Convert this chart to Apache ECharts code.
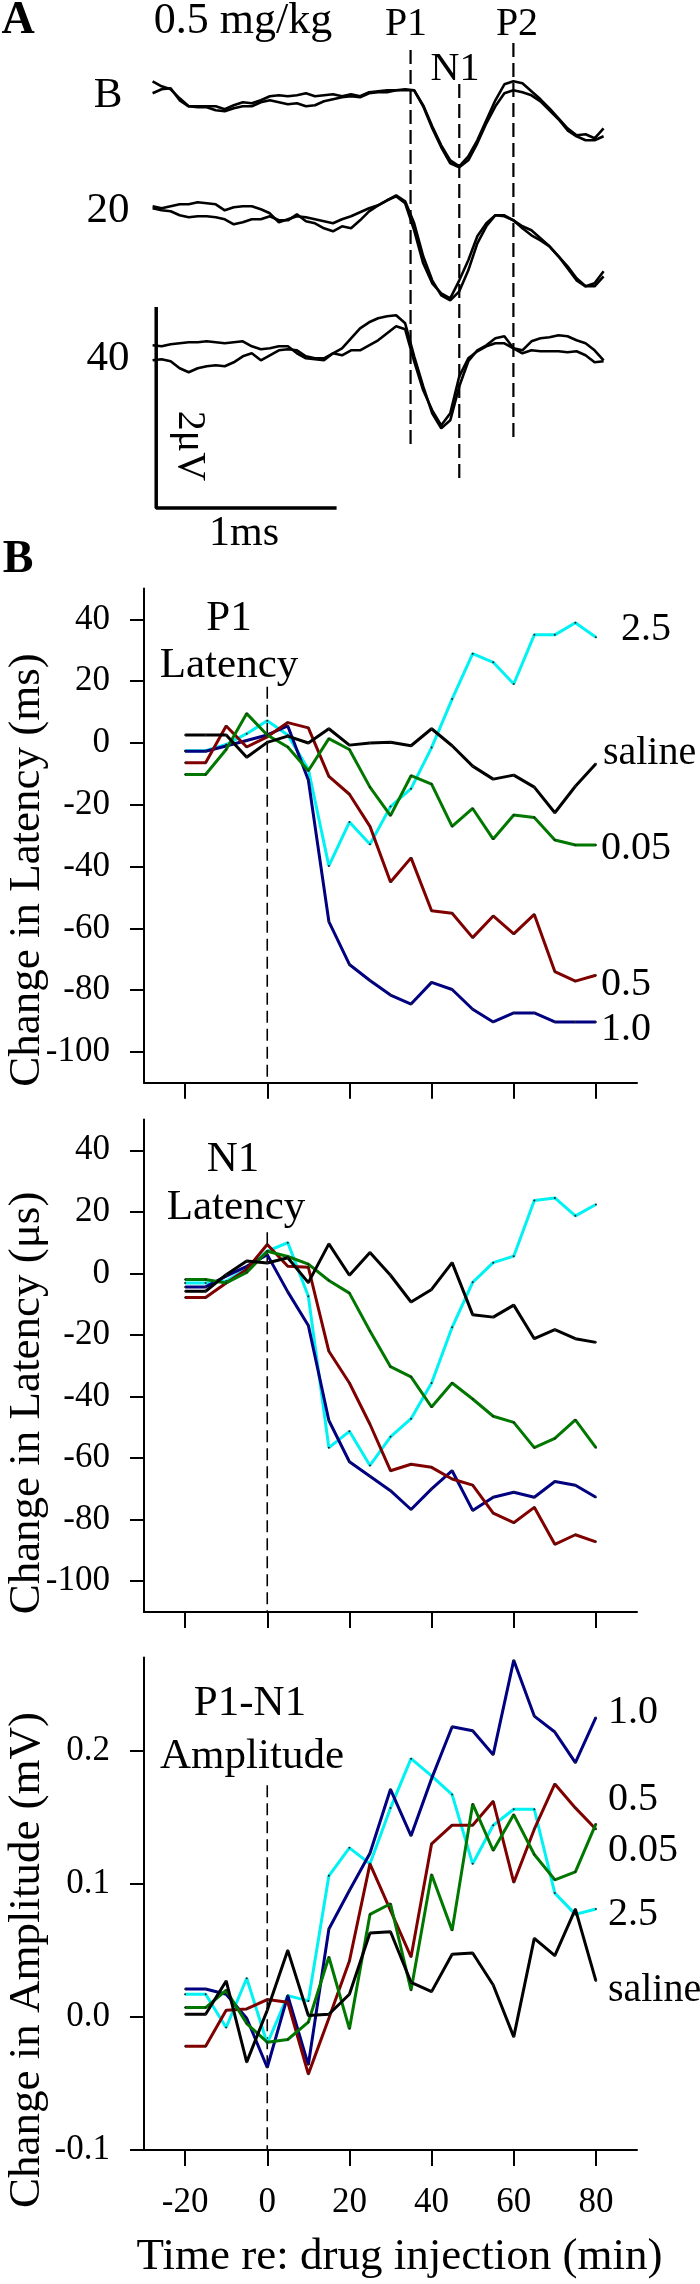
<!DOCTYPE html>
<html>
<head>
<meta charset="utf-8">
<script src="https://cdn.jsdelivr.net/npm/echarts@6/dist/echarts.min.js"></script>
<style>
html,body{margin:0;padding:0;background:#fff;}
#chart{width:700px;height:2284px;}
</style>
</head>
<body>
<div id="chart"></div>
<script>
// ---------------- Panel A: evoked responses (0.5 mg/kg) ----------------
// sample times (ms) and amplitude (μV, relative to pre-stimulus level)
const waveTime = [0,0.05,0.1,0.15,0.2,0.25,0.3,0.35,0.4,0.45,0.5,0.55,0.6,0.65,0.7,0.75,0.8,0.85,0.9,0.95,1.0,1.05,1.1,1.15,1.2,1.25,1.3,1.35,1.4,1.45,1.5,1.55,1.6,1.65,1.7,1.75,1.8,1.85,1.9,1.95,2.0,2.05,2.1,2.15,2.2,2.25,2.3,2.35,2.4,2.45,2.5];
const waveB_a = [0.12,0.07,0.04,-0.05,-0.13,-0.13,-0.13,-0.13,-0.16,-0.12,-0.09,-0.10,-0.07,-0.03,-0.02,-0.03,-0.02,0,-0.03,-0.02,-0.01,-0.03,-0.01,-0.03,0.01,0.02,0.03,0.03,0.04,0.03,-0.12,-0.33,-0.52,-0.67,-0.73,-0.63,-0.47,-0.27,-0.07,0.09,0.12,0.10,0.02,-0.06,-0.15,-0.25,-0.35,-0.42,-0.41,-0.45,-0.35];
const waveB_b = [0,0.04,0.05,-0.07,-0.13,-0.14,-0.14,-0.17,-0.18,-0.15,-0.13,-0.13,-0.09,-0.07,-0.09,-0.11,-0.10,-0.13,-0.12,-0.08,-0.06,-0.04,-0.03,-0.04,0,0.01,0.01,0.03,0.03,0.03,-0.13,-0.35,-0.54,-0.70,-0.74,-0.67,-0.50,-0.30,-0.13,0,0.03,0.01,-0.02,-0.08,-0.17,-0.26,-0.37,-0.43,-0.47,-0.47,-0.43];
const wave20_a = [0.07,0.05,0.07,0.09,0.09,0.11,0.10,0.09,0.03,0.06,0.07,0.07,0.04,0,-0.09,-0.06,-0.03,-0.04,-0.06,-0.08,-0.10,-0.06,-0.03,0.01,0.05,0.08,0.13,0.18,0.12,-0.10,-0.43,-0.67,-0.82,-0.87,-0.78,-0.57,-0.30,-0.13,-0.02,-0.02,-0.07,-0.13,-0.17,-0.25,-0.33,-0.43,-0.53,-0.65,-0.73,-0.70,-0.58];
const wave20_b = [0.05,0.03,0.02,-0.02,-0.04,-0.03,-0.03,-0.04,-0.06,-0.11,-0.09,-0.06,-0.06,-0.03,-0.07,-0.07,-0.01,-0.08,-0.10,-0.15,-0.18,-0.13,-0.15,-0.07,0.02,0.08,0.13,0.17,0.10,-0.17,-0.50,-0.70,-0.80,-0.85,-0.67,-0.47,-0.23,-0.10,-0.02,-0.03,-0.07,-0.15,-0.22,-0.27,-0.33,-0.43,-0.55,-0.67,-0.73,-0.73,-0.63];
const wave40_a = [0.08,0.07,0.09,0.10,0.11,0.11,0.12,0.11,0.10,0.11,0.12,0.07,0.04,0.05,0.07,0.07,0,-0.05,-0.06,-0.07,0,0.05,0.15,0.25,0.31,0.35,0.37,0.38,0.30,-0.03,-0.33,-0.60,-0.75,-0.67,-0.33,-0.08,0.03,0.08,0.15,0.17,0.05,0.03,0.12,0.15,0.16,0.18,0.17,0.13,0.10,0.03,-0.07];
const wave40_b = [-0.07,-0.06,-0.08,-0.15,-0.19,-0.15,-0.13,-0.12,-0.13,-0.09,-0.03,0,-0.07,-0.02,0.03,0.04,0.03,-0.03,-0.05,-0.05,0,-0.02,0.03,0.03,0.08,0.13,0.20,0.27,0.24,-0.08,-0.37,-0.57,-0.72,-0.60,-0.23,-0.05,0.02,0.07,0.10,0.10,0.05,0,0.03,0.02,0.02,0.02,0.01,0.02,-0.02,-0.09,-0.08];
const waveRowNames = ['B','20','40'];
const waveRowLevel = [-0.933,-2.133,-3.533];      // stacking level of each row (μV)
const peakNames = ['P1','N1','P2'];
const peakTimes = [1.43,1.70,2.00];               // ms
const peakLineTop = [-0.50,-0.84,-0.43];          // μV
const peakLineBottom = [-4.47,-4.83,-4.40];       // μV
const scaleBarTime = [0.02,0.02,1.02];            // 1 ms
const scaleBarAmp = [-3.07,-5.08,-5.08];          // 2 μV

// ---------------- Panel B: time courses ----------------
const minutes = [-20,-15,-10,-5,0,5,10,15,20,25,30,35,40,45,50,55,60,65,70,75,80];
const xTicks = [-20,0,20,40,60,80];
const latTicks = [-100,-80,-60,-40,-20,0,20,40];
const ampTicks = [-0.1,0,0.1,0.2];

const doseNames = ['2.5','1.0','0.5','0.05','saline'];
const doseColors = ['#00f2f2','#000080','#800000','#007800','#000000'];

// P1 latency change (ms)
const p1_25     = [-2.5,-2.5,-0.5,3,7.2,2.6,-8.5,-39.8,-25.6,-32.8,-20.6,-14.8,-1.5,14.2,28.9,26.1,19.1,35,35,38.9,34.2];
const p1_10     = [-2.7,-2.7,-1,0.8,2.6,5.5,-12,-57.8,-71.7,-76.9,-81.6,-84.5,-77.5,-79.8,-86.2,-90.3,-87.4,-87.4,-90.3,-90.3,-90.3];
const p1_05     = [-6.4,-6.4,5.5,-1.3,2,6.6,4.9,-10.8,-16.6,-27,-45,-37.2,-54.3,-55.1,-63,-56,-61.8,-55.5,-74,-77.1,-75.2];
const p1_005    = [-10.2,-10.2,-2.1,9.5,2.6,-1.3,-9,1.4,-2.1,-14.3,-23.5,-10.6,-13.3,-27,-21.2,-31.1,-23.3,-24.1,-31.4,-33,-33];
const p1_saline = [2.6,2.6,2.6,-4.6,0.2,2.2,0,4.6,-0.7,0,0.2,-0.9,4.6,-0.9,-7.5,-11.7,-10.4,-14.3,-22.6,-14.0,-6.7];

// N1 latency change (μs)
const n1_25     = [-3.1,-3.1,-2.5,1.5,7.2,10,-7.4,-56.6,-51.3,-62.4,-53.1,-47.2,-35.6,-17.5,-2.9,3.5,5.6,23.7,24.5,18.7,22.4];
const n1_10     = [-4.4,-4.4,-0.9,2.3,6.1,-6,-16.9,-47.8,-61.2,-65.9,-70.6,-76.7,-70,-64.1,-77,-72.7,-71.1,-72.7,-67.6,-68.8,-72.7];
const n1_05     = [-7.8,-7.8,-3.1,1.3,9.4,2.3,2,-25.3,-35.6,-49,-64.1,-62,-63,-66.8,-68.8,-77.9,-81,-76,-88,-84.9,-87.2];
const n1_005    = [-2.0,-2.0,-3.1,0.3,7.2,5.5,3,-2.3,-6.4,-18.7,-30.3,-33.6,-43.4,-35.6,-40.8,-46.4,-48.4,-56.6,-53.6,-47.6,-56.6];
const n1_saline = [-5.8,-5.8,-0.4,4.0,3.4,5.1,-3,9.6,-0.6,6.8,-0.6,-9.3,-5.2,3.5,-13.4,-14.2,-10.3,-21.2,-18.3,-21.2,-22.4];

// P1-N1 amplitude change (mV)
const amp_25     = [0.017,0.017,-0.008,0.029,-0.02,0.016,0.012,0.106,0.127,0.115,0.157,0.194,0.181,0.167,0.115,0.144,0.156,0.156,0.093,0.077,0.081];
const amp_10     = [0.021,0.021,0.017,-0.001,-0.038,0.016,-0.036,0.066,0.095,0.123,0.171,0.136,0.179,0.218,0.215,0.197,0.268,0.226,0.214,0.191,0.225];
const amp_05     = [-0.022,-0.022,0.005,0.006,0.013,0.011,-0.043,-0.001,0.042,0.115,0.08,0.045,0.13,0.144,0.144,0.162,0.101,0.141,0.175,0.157,0.141];
const amp_005    = [0.007,0.007,0.02,-0.005,-0.019,-0.017,-0.004,0.045,-0.009,0.077,0.085,0.02,0.107,0.065,0.16,0.125,0.152,0.122,0.103,0.109,0.145];
const amp_saline = [0.002,0.002,0.027,-0.034,0.005,0.05,0.001,0.002,0.017,0.063,0.064,0.026,0.019,0.047,0.048,0.024,-0.015,0.059,0.046,0.081,0.027];

// injection marker extent (value units per panel)
const injTop = [18.2, 13.4, 0.174];
const injBottom = [-110, -110, -0.1];

const panelTitles = ['Change in Latency (ms)','Change in Latency (\u03bcs)','Change in Amplitude (mV)'];
const panelNotes = [['P1','Latency'],['N1','Latency'],['P1-N1','Amplitude']];

// ---------------- build option ----------------
const FONT = "'Liberation Serif','Times New Roman',Times,serif";
const chart = echarts.init(document.getElementById('chart'), null, {renderer:'canvas'});

const grids = [
  {left:152.6, top:0, width:451, height:560},
  {left:144, top:588.5, width:493, height:494.3},
  {left:144, top:1119.5, width:493, height:492.5},
  {left:144, top:1657.5, width:493, height:492.5}
].map(g => Object.assign({outerBoundsMode:'none', containLabel:false}, g));

const axisLineStyle = {color:'#000', width:2};
function bX(gi, withLabels){
  return {
    type:'value', gridIndex:gi, min:-30, max:90,
    axisLine:{show:true, onZero:false, lineStyle:axisLineStyle},
    axisTick:{show:true, length:16, customValues:xTicks, lineStyle:{color:'#000', width:2}},
    axisLabel:{show:withLabels, customValues:xTicks, margin:35, fontSize:35, lineHeight:35, color:'#000', fontFamily:FONT},
    splitLine:{show:false},
    name: withLabels ? 'Time re: drug injection (min)' : '',
    nameLocation:'middle', nameGap:85,
    nameTextStyle:{fontSize:45, lineHeight:45, color:'#000', fontFamily:FONT, padding:[0,0,0,18]}
  };
}
function bY(gi, min, max, ticks, fmt){
  return {
    type:'value', gridIndex:gi, min:min, max:max,
    axisLine:{show:true, onZero:false, lineStyle:axisLineStyle},
    axisTick:{show:true, length:14, customValues:ticks, lineStyle:{color:'#000', width:2}},
    axisLabel:{show:true, customValues:ticks, margin:34, fontSize:35, color:'#000', fontFamily:FONT, formatter:fmt},
    splitLine:{show:false}
  };
}

const xAxes = [
  {type:'value', gridIndex:0, min:0, max:2.5, show:false},
  bX(1,false), bX(2,false), bX(3,true)
];
const yAxes = [
  {type:'value', gridIndex:0, min:-5.6, max:0, show:false},
  bY(1,-110,50,latTicks, v=>String(v)),
  bY(2,-110,50,latTicks, v=>String(v)),
  bY(3,-0.1,0.27,ampTicks, v=>v.toFixed(1))
];

const series = [];
// Panel A traces
const waveRows = [[waveB_a, waveB_b],[wave20_a, wave20_b],[wave40_a, wave40_b]];
waveRows.forEach((pair, r) => {
  pair.forEach((arr, k) => {
    series.push({
      type:'line', name:'trace '+waveRowNames[r]+'-'+(k+1), xAxisIndex:0, yAxisIndex:0,
      data: waveTime.map((t,i) => [t, arr[i] + waveRowLevel[r]]),
      showSymbol:false, silent:true, smooth:false,
      lineStyle:{color:'#000', width:2.6}
    });
  });
});
peakNames.forEach((p, i) => {
  series.push({
    type:'line', name:'peak '+p, xAxisIndex:0, yAxisIndex:0,
    data:[[peakTimes[i], peakLineTop[i]],[peakTimes[i], peakLineBottom[i]]],
    showSymbol:false, silent:true,
    lineStyle:{color:'#000', width:2.2, type:[14,6]}
  });
});
series.push({
  type:'line', name:'scale bar', xAxisIndex:0, yAxisIndex:0,
  data: scaleBarTime.map((t,i)=>[t, scaleBarAmp[i]]),
  showSymbol:false, silent:true, lineStyle:{color:'#000', width:3.5}
});

// Panel B series
const panelData = [
  [p1_25, p1_10, p1_05, p1_005, p1_saline],
  [n1_25, n1_10, n1_05, n1_005, n1_saline],
  [amp_25, amp_10, amp_05, amp_005, amp_saline]
];
// end-label placement [distance, dy] per panel/dose (null = no label)
const endLabelPos = [
  [[25,-8],[5,8],[5,9],[5,4],[7,-10]],
  null,
  [[12,5],[12,-5],[12,-30],[12,27],[12,10]]
];
panelData.forEach((sets, p) => {
  const gi = p + 1;
  series.push({
    type:'line', name:'injection '+gi, xAxisIndex:gi, yAxisIndex:gi,
    data:[[0, injTop[p]],[0, injBottom[p]]], showSymbol:false, silent:true, z:1,
    lineStyle:{color:'#000', width:1.6, type:[12,6]}
  });
  sets.forEach((vals, d) => {
    const pos = endLabelPos[p] ? endLabelPos[p][d] : null;
    series.push({
      type:'line', name:doseNames[d]+' (panel '+gi+')', xAxisIndex:gi, yAxisIndex:gi,
      data: minutes.map((m,i)=>[m, vals[i]]),
      symbol:'circle', symbolSize:2, showSymbol:true,
      itemStyle:{color:'#222'},
      lineStyle:{color:doseColors[d], width:3},
      z: 2 + d,
      endLabel: pos ? {
        show:true, formatter:doseNames[d], distance:pos[0], offset:[0,pos[1]],
        color:'#000', fontSize:40, fontFamily:FONT
      } : {show:false},
      labelLayout:{hideOverlap:false}
    });
  });
});

function txt(text, x, y, size, opts){
  opts = opts || {};
  const el = {
    type:'text', x:x, y:y, silent:true,
    style:{text:text, fontSize:size, lineHeight:size, fontFamily:FONT, fill:'#000', align:'center', verticalAlign:'middle',
      fontWeight: opts.bold ? 'bold' : 'normal'}
  };
  if (opts.rotation) el.rotation = opts.rotation;
  return el;
}
const graphics = [
  txt('A', 18, 21, 46, {bold:true}),
  txt('B', 18, 560, 46, {bold:true}),
  txt('0.5 mg/kg', 243, 21, 44),
  txt(peakNames[0], 406, 24, 40),
  txt(peakNames[1], 455, 69, 40),
  txt(peakNames[2], 517, 24, 40),
  txt(waveRowNames[0], 108, 96, 43),
  txt(waveRowNames[1], 108, 211, 43),
  txt(waveRowNames[2], 108, 359, 43),
  txt('2\u03bcV', 189, 446, 40, {rotation:-Math.PI/2}),
  txt('1ms', 244, 534, 42),
  // panel annotations
  txt(panelNotes[0][0], 229, 619, 43),
  txt(panelNotes[0][1], 229, 666, 43),
  txt(panelNotes[1][0], 233, 1160, 43),
  txt(panelNotes[1][1], 236, 1208, 43),
  txt(panelNotes[2][0], 250, 1704, 43),
  txt(panelNotes[2][1], 252, 1757, 43),
  // y axis titles
  txt(panelTitles[0], 27, 870, 45, {rotation:Math.PI/2}),
  txt(panelTitles[1], 27, 1403, 45, {rotation:Math.PI/2}),
  txt(panelTitles[2], 27, 1960, 45, {rotation:Math.PI/2})
];

chart.setOption({
  animation:false,
  backgroundColor:'#fff',
  grid:grids,
  xAxis:xAxes,
  yAxis:yAxes,
  series:series,
  graphic:graphics
});
</script>
</body>
</html>
